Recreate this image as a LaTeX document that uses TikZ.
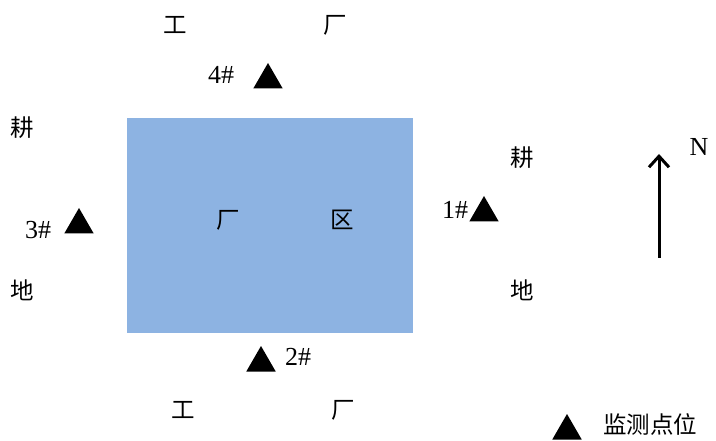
\documentclass[tikz,border=0pt]{standalone}
\usepackage{fontspec}
\setmainfont{Liberation Serif}
\newfontfamily\cjk{Noto Sans CJK SC}
\usetikzlibrary{arrows.meta,positioning,shapes.geometric}
\definecolor{site}{HTML}{8DB3E2}
\tikzset{
  zh/.style={font=\cjk\fontsize{23.5}{26}\selectfont,inner sep=0pt},
  num/.style={font=\fontsize{26}{28}\selectfont,inner sep=0pt},
  pt/.style={regular polygon,regular polygon sides=3,fill=black,minimum size=34pt,inner sep=0pt,outer sep=0pt},
  nar/.style={-{Straight Barb[length=11pt,width=20pt,line width=3pt]},line width=3pt},
}
\begin{document}
\begin{tikzpicture}[x=1pt,y=-1pt]
\useasboundingbox (0,0) rectangle (716,441);
% plant area
\node[fill=site,minimum width=286pt,minimum height=215pt,inner sep=0pt,anchor=north west] (fac) at (127,118) {};
\node[zh] (facA) at (228,220) {厂};
\node[zh] (facB) at (342,220) {区};
% surroundings
\node[zh] (topA) at (175,25) {工};
\node[zh] (topB) at (335,25) {厂};
\node[zh] (botA) at (183,410) {工};
\node[zh] (botB) at (343,410) {厂};
\node[zh] (wA) at (22,128) {耕};
\node[zh] (wB) at (22,290) {地};
\node[zh] (eA) at (522,158) {耕};
\node[zh] (eB) at (522,290) {地};
% monitoring points
\node[pt] (mk1) at (484,213) {};
\node[pt] (mk2) at (261,363) {};
\node[pt] (mk3) at (79,225) {};
\node[pt] (mk4) at (268,80) {};
\node[num] (lb1) at (455,210) {1\#};
\node[num] (lb2) at (298,357) {2\#};
\node[num] (lb3) at (38,230) {3\#};
\node[num] (lb4) at (221,75) {4\#};
% north arrow
\coordinate (nS) at (659,258);
\coordinate (nE) at (659,154);
\draw[nar] (nS) -- (nE);
\node[num] (nlab) at (699,147) {N};
% legend
\node[pt] (lgd) at (567,431) {};
\node[zh] (lgdT) at (650,424) {监测点位};
\end{tikzpicture}
\end{document}
